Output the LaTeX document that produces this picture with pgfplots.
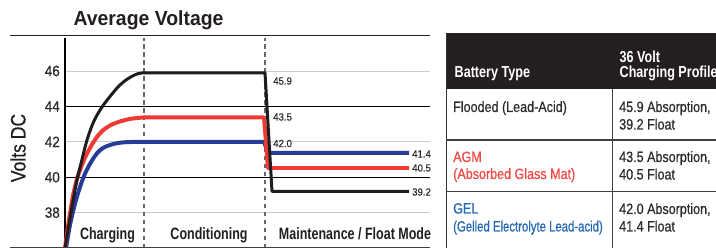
\documentclass[border=0pt]{standalone}
\usepackage{fontspec}
\setmainfont{Liberation Sans}
\usepackage{pgfplots}
\pgfplotsset{compat=1.18}
\newfontfamily\fA[FakeStretch=0.9,FakeBold=0.6]{Liberation Sans}
\newfontfamily\fB[FakeStretch=0.84,FakeBold=0.6]{Liberation Sans}
\newfontfamily\fG[FakeStretch=0.76,FakeBold=0.6]{Liberation Sans}
\newfontfamily\fC[FakeStretch=0.76]{Liberation Sans}
\newfontfamily\fH[FakeStretch=0.79]{Liberation Sans}
\newfontfamily\fD[FakeStretch=0.95]{Liberation Sans}
\newfontfamily\fE[FakeStretch=0.92,FakeBold=0.4]{Liberation Sans}
\definecolor{cblk}{HTML}{1E1C1D}
\definecolor{cred}{HTML}{EE3A32}
\definecolor{cblu}{HTML}{263C96}
\definecolor{tred}{HTML}{EF4A45}
\definecolor{tblu}{HTML}{2467B0}
\definecolor{hdr}{HTML}{231F20}
\definecolor{txt}{HTML}{2B2B2B}
\begin{document}
\begin{tikzpicture}
\useasboundingbox (0,0) rectangle (716bp,248bp);
\begin{axis}[at={(65bp,0bp)}, anchor=south west, scale only axis,
  width=365bp, height=212.4bp, xmin=0, xmax=365, ymin=36, ymax=48,
  axis line style={draw=none}, xtick=\empty,
  ytick={38,42,46}, extra y ticks={40,44},
  extra y tick style={grid style={draw=black, line width=0.9pt}},
  ymajorgrids, grid style={draw=black!20, line width=0.9pt},
  major tick length=0pt,
  yticklabel style={font=\fA\fontsize{15}{15}\selectfont, text=txt, inner sep=0pt, xshift=-5bp},
  /pgf/number format/assume math mode=true,
  clip=false]
\draw[black!60, line width=1.2pt, dash pattern=on 4.5pt off 3.5pt] (axis cs:79,36) -- (axis cs:79,47.86);
\draw[black!60, line width=1.2pt, dash pattern=on 4.5pt off 3.5pt] (axis cs:200,36) -- (axis cs:200,47.86);
\draw[black, line width=1.2pt] (axis cs:0,36) -- (axis cs:0,47.86);
% GEL
\addplot[cblu, line width=4pt, smooth, tension=0.55, line cap=round] coordinates {
(1,36) (5,37.3) (10,38.5) (15,39.45) (20,40.2) (26,40.85) (32,41.35) (38,41.65) (45,41.82) (53,41.93) (62,41.98) (79,42.0)};
\addplot[cblu, line width=4pt, sharp plot, line join=round] coordinates {
(79,42.0) (199,42.0) (203,41.37) (344,41.37)};
% AGM
\addplot[cred, line width=4pt, smooth, tension=0.55, line cap=round] coordinates {
(0,36) (4,37.6) (8,38.95) (12,39.9) (15,40.4) (20,41.1) (25,41.65) (31,42.2) (38,42.65) (46,42.95) (55,43.15) (66,43.3) (79,43.38)};
\addplot[cred, line width=4pt, sharp plot, line join=round] coordinates {
(79,43.38) (199,43.38) (203,40.52) (344,40.52)};
% Flooded
\addplot[cblk, line width=3pt, smooth, tension=0.55, line cap=round] coordinates {
(0,36) (4,37.35) (8,38.65) (12,39.85) (17,41.0) (22,42.1) (28,43.05) (34,43.7) (40,44.2) (47,44.7) (53,45.1) (60,45.45) (67,45.7) (73,45.85) (79,45.9)};
\addplot[cblk, line width=3pt, sharp plot, line join=round] coordinates {
(79,45.9) (200,45.9) (207,39.2) (344,39.2)};
\end{axis}
\begin{scope}[shift={(0,248bp)}, x=1bp, y=-1bp]
% title and frame lines
\node[anchor=base, inner sep=0pt, text=hdr, font=\fD\bfseries\fontsize{20.5}{20.5}\selectfont] at (148.5,26) {Average Voltage};
\draw[hdr, line width=1.4pt] (10,35.5) -- (430,35.5);
\draw[black!75, line width=1pt] (10,247.5) -- (430,247.5);
\node[rotate=90, inner sep=0pt, text=hdr, font=\fB\fontsize{21}{21}\selectfont] at (18,148) {Volts DC};
% phase labels
\node[anchor=base, inner sep=0pt, text=hdr, font=\fC\bfseries\fontsize{16.5}{16.5}\selectfont] at (107.5,240) {Charging};
\node[anchor=base, inner sep=0pt, text=hdr, font=\fC\bfseries\fontsize{16.5}{16.5}\selectfont] at (209,240) {Conditioning};
\node[anchor=base, inner sep=0pt, text=hdr, font=\fC\bfseries\fontsize{16.5}{16.5}\selectfont] at (355,240) {Maintenance / Float Mode};
% value labels
\node[anchor=west, inner sep=0pt, text=txt, font=\fE\fontsize{10.5}{10.5}\selectfont] at (273,81) {45.9};
\node[anchor=west, inner sep=0pt, text=txt, font=\fE\fontsize{10.5}{10.5}\selectfont] at (273,117) {43.5};
\node[anchor=west, inner sep=0pt, text=txt, font=\fE\fontsize{10.5}{10.5}\selectfont] at (273,143.5) {42.0};
\node[anchor=west, inner sep=0pt, text=txt, font=\fE\fontsize{10.5}{10.5}\selectfont] at (412,154) {41.4};
\node[anchor=west, inner sep=0pt, text=txt, font=\fE\fontsize{10.5}{10.5}\selectfont] at (412,168) {40.5};
\node[anchor=west, inner sep=0pt, text=txt, font=\fE\fontsize{10.5}{10.5}\selectfont] at (412,192) {39.2};
% table
\fill[hdr] (446,33) rectangle (730,89.3);
\draw[black!80, line width=1.3pt] (446.6,33) -- (446.6,252);
\draw[black!75, line width=1.2pt] (446,140) -- (730,140);
\draw[black!75, line width=1.2pt] (446,191.5) -- (730,191.5);
\draw[black!75, line width=1.2pt] (612.5,89) -- (612.5,252);
\node[anchor=base west, inner sep=0pt, text=white, font=\fH\bfseries\fontsize{16}{16}\selectfont] at (454.5,78) {Battery Type};
\node[anchor=base west, inner sep=0pt, text=white, font=\fH\bfseries\fontsize{16}{16}\selectfont] at (619.5,63) {36 Volt};
\node[anchor=base west, inner sep=0pt, text=white, font=\fH\bfseries\fontsize{16}{16}\selectfont] at (619.5,78) {Charging Profile};
\node[anchor=base west, inner sep=0pt, text=txt, font=\fB\fontsize{15}{15}\selectfont] at (453,112) {Flooded (Lead-Acid)};
\node[anchor=base west, inner sep=0pt, text=txt, font=\fB\fontsize{15}{15}\selectfont] at (619,112) {45.9 Absorption,};
\node[anchor=base west, inner sep=0pt, text=txt, font=\fB\fontsize{15}{15}\selectfont] at (619,129.5) {39.2 Float};
\node[anchor=base west, inner sep=0pt, text=tred, font=\fB\fontsize{15}{15}\selectfont] at (453,162) {AGM};
\node[anchor=base west, inner sep=0pt, text=tred, font=\fB\fontsize{15}{15}\selectfont] at (453,179) {(Absorbed Glass Mat)};
\node[anchor=base west, inner sep=0pt, text=txt, font=\fB\fontsize{15}{15}\selectfont] at (619,162) {43.5 Absorption,};
\node[anchor=base west, inner sep=0pt, text=txt, font=\fB\fontsize{15}{15}\selectfont] at (619,179.5) {40.5 Float};
\node[anchor=base west, inner sep=0pt, text=tblu, font=\fB\fontsize{15}{15}\selectfont] at (453,213.5) {GEL};
\node[anchor=base west, inner sep=0pt, text=tblu, font=\fG\fontsize{15}{15}\selectfont] at (453,231.5) {(Gelled Electrolyte Lead-acid)};
\node[anchor=base west, inner sep=0pt, text=txt, font=\fB\fontsize{15}{15}\selectfont] at (619,214) {42.0 Absorption,};
\node[anchor=base west, inner sep=0pt, text=txt, font=\fB\fontsize{15}{15}\selectfont] at (619,231.5) {41.4 Float};
\end{scope}
\end{tikzpicture}
\end{document}
